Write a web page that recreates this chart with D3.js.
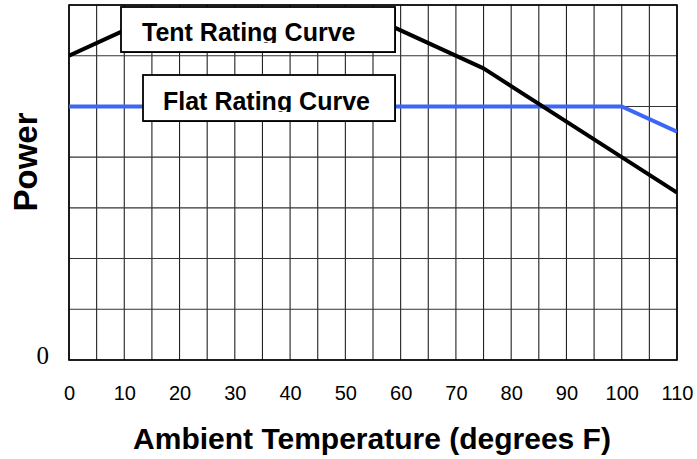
<!DOCTYPE html>
<html>
<head>
<meta charset="utf-8">
<script src="https://cdn.jsdelivr.net/npm/d3@7"></script>
<style>
  html, body { margin: 0; padding: 0; background: #fff; }
  svg { display: block; }
</style>
</head>
<body>
<svg id="chart" width="697" height="459"></svg>
<script>
// ---- data ----
const tempTicks = [0, 10, 20, 30, 40, 50, 60, 70, 80, 90, 100, 110];
const gridTemps = d3.range(0, 111, 5);
const gridPower = [0, 1, 2, 3, 4, 5, 6, 7];
const powerTickLabels = ["0"];
const tentTemps = [0, 18, 52, 60, 75, 100, 110];
const tentPower = [6.0, 6.9, 6.9, 6.5, 5.75, 4.0, 3.3];
const flatTemps = [0, 100, 110];
const flatPower = [5.0, 5.0, 4.5];
const legendLabels = ["Tent Rating Curve", "Flat Rating Curve"];

// ---- layout ----
const W = 697, H = 459;
const m = { left: 69, right: 20, top: 5, bottom: 99 };
const svg = d3.select("#chart");
const x = d3.scaleLinear().domain([0, 110]).range([m.left, W - m.right]);
const y = d3.scaleLinear().domain([0, 7]).range([H - m.bottom, m.top]);

const g = svg.append("g");

// grid
g.append("g").selectAll("line").data(gridTemps).join("line")
  .attr("x1", d => x(d)).attr("x2", d => x(d))
  .attr("y1", y(0)).attr("y2", y(7))
  .attr("stroke", "#222").attr("stroke-width", 1.1);
g.append("g").selectAll("line").data(gridPower).join("line")
  .attr("x1", x(0)).attr("x2", x(110))
  .attr("y1", d => y(d)).attr("y2", d => y(d))
  .attr("stroke", "#333").attr("stroke-width", 1.1);

// border
g.append("rect").attr("x", x(0)).attr("y", y(7))
  .attr("width", x(110) - x(0)).attr("height", y(0) - y(7))
  .attr("fill", "none").attr("stroke", "#000").attr("stroke-width", 1.6);

// clip
svg.append("defs").append("clipPath").attr("id", "plotclip")
  .append("rect").attr("x", x(0)).attr("y", y(7))
  .attr("width", x(110) - x(0)).attr("height", y(0) - y(7));

const line = d3.line().x(d => x(d[0])).y(d => y(d[1]));
const lines = g.append("g").attr("clip-path", "url(#plotclip)");
lines.append("path").datum(flatTemps.map((t, i) => [t, flatPower[i]]))
  .attr("d", line).attr("fill", "none").attr("stroke", "#3d66f5")
  .attr("stroke-width", 4);
lines.append("path").datum(tentTemps.map((t, i) => [t, tentPower[i]]))
  .attr("d", line).attr("fill", "none").attr("stroke", "#000")
  .attr("stroke-width", 4).attr("stroke-linejoin", "round");

// x axis labels
const xAxis = d3.axisBottom(x).tickValues(tempTicks).tickSize(0).tickPadding(0);
const xa = svg.append("g").attr("transform", `translate(0,${y(0) + 40})`).call(xAxis);
xa.select(".domain").remove();
xa.selectAll("text").attr("dy", 0).attr("font-family", "Liberation Sans, Arial, sans-serif")
  .attr("font-size", 20).attr("fill", "#000");

// y axis label "0"
const yAxis = d3.axisLeft(y).tickValues([0]).tickFormat((d, i) => powerTickLabels[i]).tickSize(0).tickPadding(0);
const ya = svg.append("g").attr("transform", `translate(${x(0) - 20},0)`).call(yAxis);
ya.select(".domain").remove();
ya.selectAll("text").attr("dy", 3).attr("font-family", "Liberation Serif, Times New Roman, serif")
  .attr("font-size", 25).attr("fill", "#000");

// axis titles
svg.append("text").attr("x", 372).attr("y", 449).attr("text-anchor", "middle")
  .attr("font-family", "Liberation Sans, Arial, sans-serif").attr("font-weight", "bold")
  .attr("font-size", 30).text("Ambient Temperature (degrees F)");
svg.append("text").attr("transform", "translate(37,162) rotate(-90)").attr("text-anchor", "middle")
  .attr("font-family", "Liberation Sans, Arial, sans-serif").attr("font-weight", "bold")
  .attr("font-size", 33).text("Power");

// legend boxes
const boxes = [
  { label: legendLabels[0], x0: 121, x1: 395, y0: 7, y1: 52, tx: 142, ty: 41 },
  { label: legendLabels[1], x0: 143, x1: 395, y0: 75, y1: 121, tx: 163, ty: 110 }
];
const defs = svg.select("defs");
boxes.forEach((b, i) => {
  defs.append("clipPath").attr("id", "tclip" + i).append("rect")
    .attr("x", b.x0).attr("y", b.y0).attr("width", b.x1 - b.x0).attr("height", b.ty + 2 - b.y0);
  svg.append("rect").attr("x", b.x0 + 1).attr("y", b.y0 + 1)
    .attr("width", b.x1 - b.x0).attr("height", b.y1 - b.y0).attr("fill", "#000");
  svg.append("rect").attr("x", b.x0).attr("y", b.y0)
    .attr("width", b.x1 - b.x0).attr("height", b.y1 - b.y0)
    .attr("fill", "#fff").attr("stroke", "#000").attr("stroke-width", 1.8);
  svg.append("text").attr("x", b.tx).attr("y", b.ty).attr("clip-path", `url(#tclip${i})`)
    .attr("font-family", "Liberation Sans, Arial, sans-serif").attr("font-weight", "bold")
    .attr("font-size", 25).text(b.label);
});
</script>
</body>
</html>
